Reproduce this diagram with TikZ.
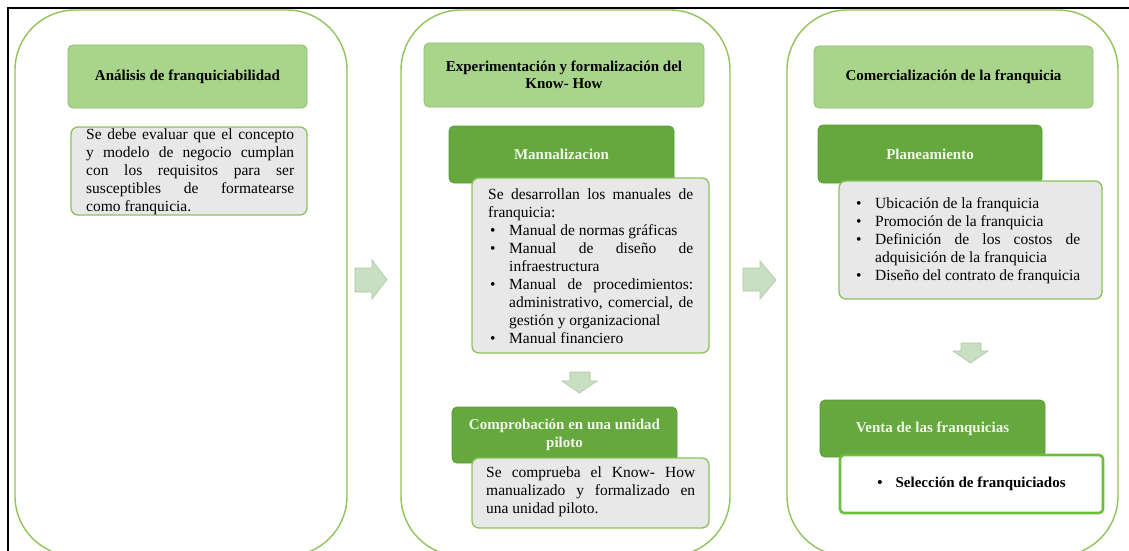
\documentclass[tikz,border=0pt]{standalone}
\usepackage{fontspec}
\setmainfont{Liberation Serif}
\definecolor{panelline}{HTML}{93C25A}
\definecolor{hdrfill}{HTML}{A9D48B}
\definecolor{hdrline}{HTML}{8CBF6C}
\definecolor{darkfill}{HTML}{64A83E}
\definecolor{darkline}{HTML}{5A9A37}
\definecolor{darktext}{HTML}{F2F9EA}
\definecolor{boxfill}{HTML}{E8E8E8}
\definecolor{boxline}{HTML}{8CC25E}
\definecolor{selline}{HTML}{6CBF3C}
\definecolor{arrfill}{HTML}{C9DFC1}
\definecolor{arrline}{HTML}{AAC8A2}
\newcommand{\bitem}[1]{\hangindent=21pt\hangafter=1\noindent\makebox[21pt][l]{\hspace{2pt}\textbullet}#1\par}
\tikzset{
  panel/.style={draw=panelline, line width=1.4pt, rounded corners=60pt},
  hdr/.style={draw=hdrline, fill=hdrfill, rounded corners=5pt, line width=0.8pt,
    font=\bfseries\fontsize{15}{17}\selectfont, align=center, inner sep=0pt},
  darkbox/.style={draw=darkline, fill=darkfill, rounded corners=5pt, line width=0.8pt,
    font=\bfseries\fontsize{15}{18}\selectfont, text=darktext, align=center, inner sep=0pt},
  txtbox/.style={draw=boxline, fill=boxfill, rounded corners=7pt, line width=1.3pt, inner sep=0pt},
  selbox/.style={draw=selline, fill=white, rounded corners=4pt, line width=2.6pt, inner sep=0pt},
  body/.style={font=\fontsize{15.5}{18}\selectfont, align=justify, inner sep=0pt, anchor=north west},
  blockarrow/.style={draw=arrline, fill=arrfill, line width=0.6pt, line join=miter}
}
\begin{document}
\begin{tikzpicture}[x=1pt,y=-1pt]
\useasboundingbox (0,0) rectangle (1129,551);
\fill[white] (0,0) rectangle (1129,551);

% page frame
\draw[line width=2pt] (8,551) -- (8,8) -- (1129,8);

% three stage panels
\draw[panel] (15,10) rectangle (347,556);
\draw[panel] (401,10) rectangle (730,556);
\draw[panel] (787,10) rectangle (1118,556);

% stage 1
\node[hdr, minimum width=239, minimum height=63] (h1) at (187.5,76.5) {Análisis de franquiciabilidad};
\node[txtbox, minimum width=236, minimum height=88] (b1) at (189,171) {};
\node[body, text width=208] (t1) at (86,129) {Se debe evaluar que el concepto\linebreak
 y modelo de negocio cumplan\linebreak con los requisitos para ser\linebreak
 susceptibles de formatearse\linebreak como franquicia.};

% stage 2
\node[hdr, minimum width=280, minimum height=64] (h2) at (564,75) {Experimentación y formalización del\\Know- How};
\node[darkbox, minimum width=225, minimum height=57] (d21) at (561.5,154.5) {Mannalizacion};
\node[txtbox, minimum width=237, minimum height=175] (b21) at (590.5,265.5) {};
\node[body, text width=205] (t21) at (488,189) {Se desarrollan los manuales de\linebreak franquicia:\par
 \bitem{Manual de normas gráficas}
 \bitem{Manual de diseño de\linebreak infraestructura}
 \bitem{Manual de procedimientos:\linebreak administrativo, comercial, de\linebreak gestión y organizacional}
 \bitem{Manual financiero}};
\node[darkbox, minimum width=225, minimum height=56] (d22) at (564.5,435) {Comprobación en una unidad\\piloto};
\node[txtbox, minimum width=237, minimum height=70] (b22) at (590.5,493) {};
\node[body, text width=209] (t22) at (486,467) {Se comprueba el Know- How\linebreak manualizado y formalizado en\linebreak una unidad piloto.};

% stage 3
\node[hdr, minimum width=279, minimum height=62] (h3) at (953.5,77) {Comercialización de la franquicia};
\node[darkbox, minimum width=224, minimum height=58] (d31) at (930,154) {Planeamiento};
\node[txtbox, minimum width=263, minimum height=118] (b31) at (970.5,240) {};
\node[body, text width=226] (t31) at (854,197) {\bitem{Ubicación de la franquicia}
 \bitem{Promoción de la franquicia}
 \bitem{Definición de los costos de\linebreak adquisición de la franquicia}
 \bitem{Diseño del contrato de franquicia}};
\node[darkbox, minimum width=225, minimum height=57] (d32) at (932.5,428.5) {Venta de las franquicias};
\node[selbox, minimum width=263, minimum height=58] (b32) at (971.5,484)
  {\bfseries\fontsize{15}{18}\selectfont\textbullet\hspace{13pt}Selección de franquiciados};

% block arrows between stages
\draw[blockarrow] (355,268) -- (372,268) -- (372,260) -- (387,279.5) -- (372,299) -- (372,292) -- (355,292) -- cycle;
\draw[blockarrow] (743,268) -- (760,268) -- (760,261) -- (776,280) -- (760,299) -- (760,291) -- (743,291) -- cycle;

% block arrows within stages
\draw[blockarrow] (570,372) -- (590,372) -- (590,381) -- (597,381) -- (579.5,393) -- (562,381) -- (570,381) -- cycle;
\draw[blockarrow] (961,343) -- (981,343) -- (981,351) -- (988,351) -- (970.5,363) -- (953,351) -- (961,351) -- cycle;
\end{tikzpicture}
\end{document}
